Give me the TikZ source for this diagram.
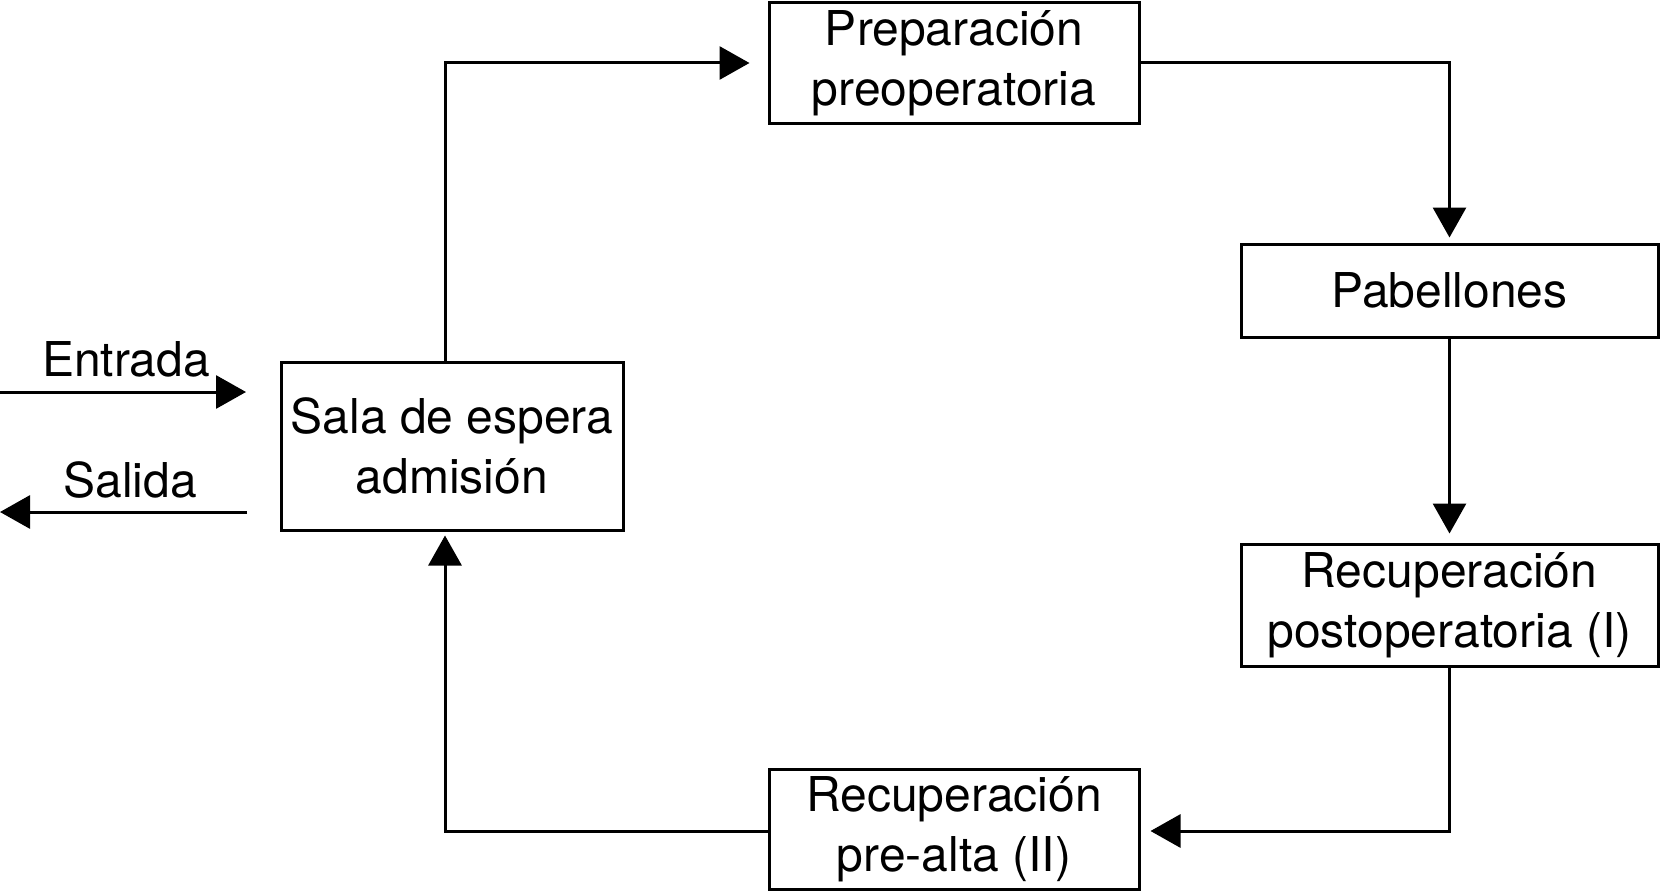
\documentclass[tikz,border=0pt]{standalone}
\usepackage{fontspec}
\setmainfont{TeX Gyre Heros}
\usetikzlibrary{arrows.meta}
\begin{document}
\begin{tikzpicture}[x=1pt,y=-1pt,
  box/.style={draw,line width=3pt,inner sep=0pt,align=center,
    font=\fontsize{48}{60}\selectfont},
  lbl/.style={inner sep=0pt,anchor=base,font=\fontsize{48}{60}\selectfont},
  flow/.style={line width=3pt,-{Triangle[length=30pt,width=33pt]}}]
\useasboundingbox (0,0) rectangle (1660,891);
\node[box,minimum width=342pt,minimum height=168pt] (sala) at (452,446) {Sala de espera\\admisión};
\node[box,minimum width=370pt,minimum height=120pt] (prep) at (954,63) {Preparación\\preoperatoria};
\node[box,minimum width=417pt,minimum height=93pt] (pab) at (1449.5,290.5) {Pabellones};
\node[box,minimum width=417pt,minimum height=122pt] (post) at (1449.5,605) {Recuperación\\postoperatoria (I)};
\node[box,minimum width=370pt,minimum height=120pt] (pre) at (954,829) {Recuperación\\pre-alta (II)};
\node[lbl] (ent) at (126,376) {Entrada};
\node[lbl] (sal) at (130,497) {Salida};
\coordinate (inA) at (0,392);
\coordinate (inB) at (246,392);
\coordinate (outA) at (247,512);
\coordinate (outB) at (0,512);
\coordinate (vx) at (445,0);
\coordinate (low) at (0,831);
\draw[flow] (inA) -- (inB);
\draw[flow] (outA) -- (outB);
\draw[flow,shorten >=18pt] (sala.north -| vx) |- (prep.west);
\draw[flow,shorten >=5pt] (prep.east) -| (pab.north);
\draw[flow,shorten >=9pt] (pab.south) -- (post.north);
\draw[flow,shorten >=10pt] (post.south) |- (pre.east |- low);
\draw[flow,shorten >=4pt] (pre.west |- low) -| (sala.south -| vx);
\end{tikzpicture}
\end{document}
